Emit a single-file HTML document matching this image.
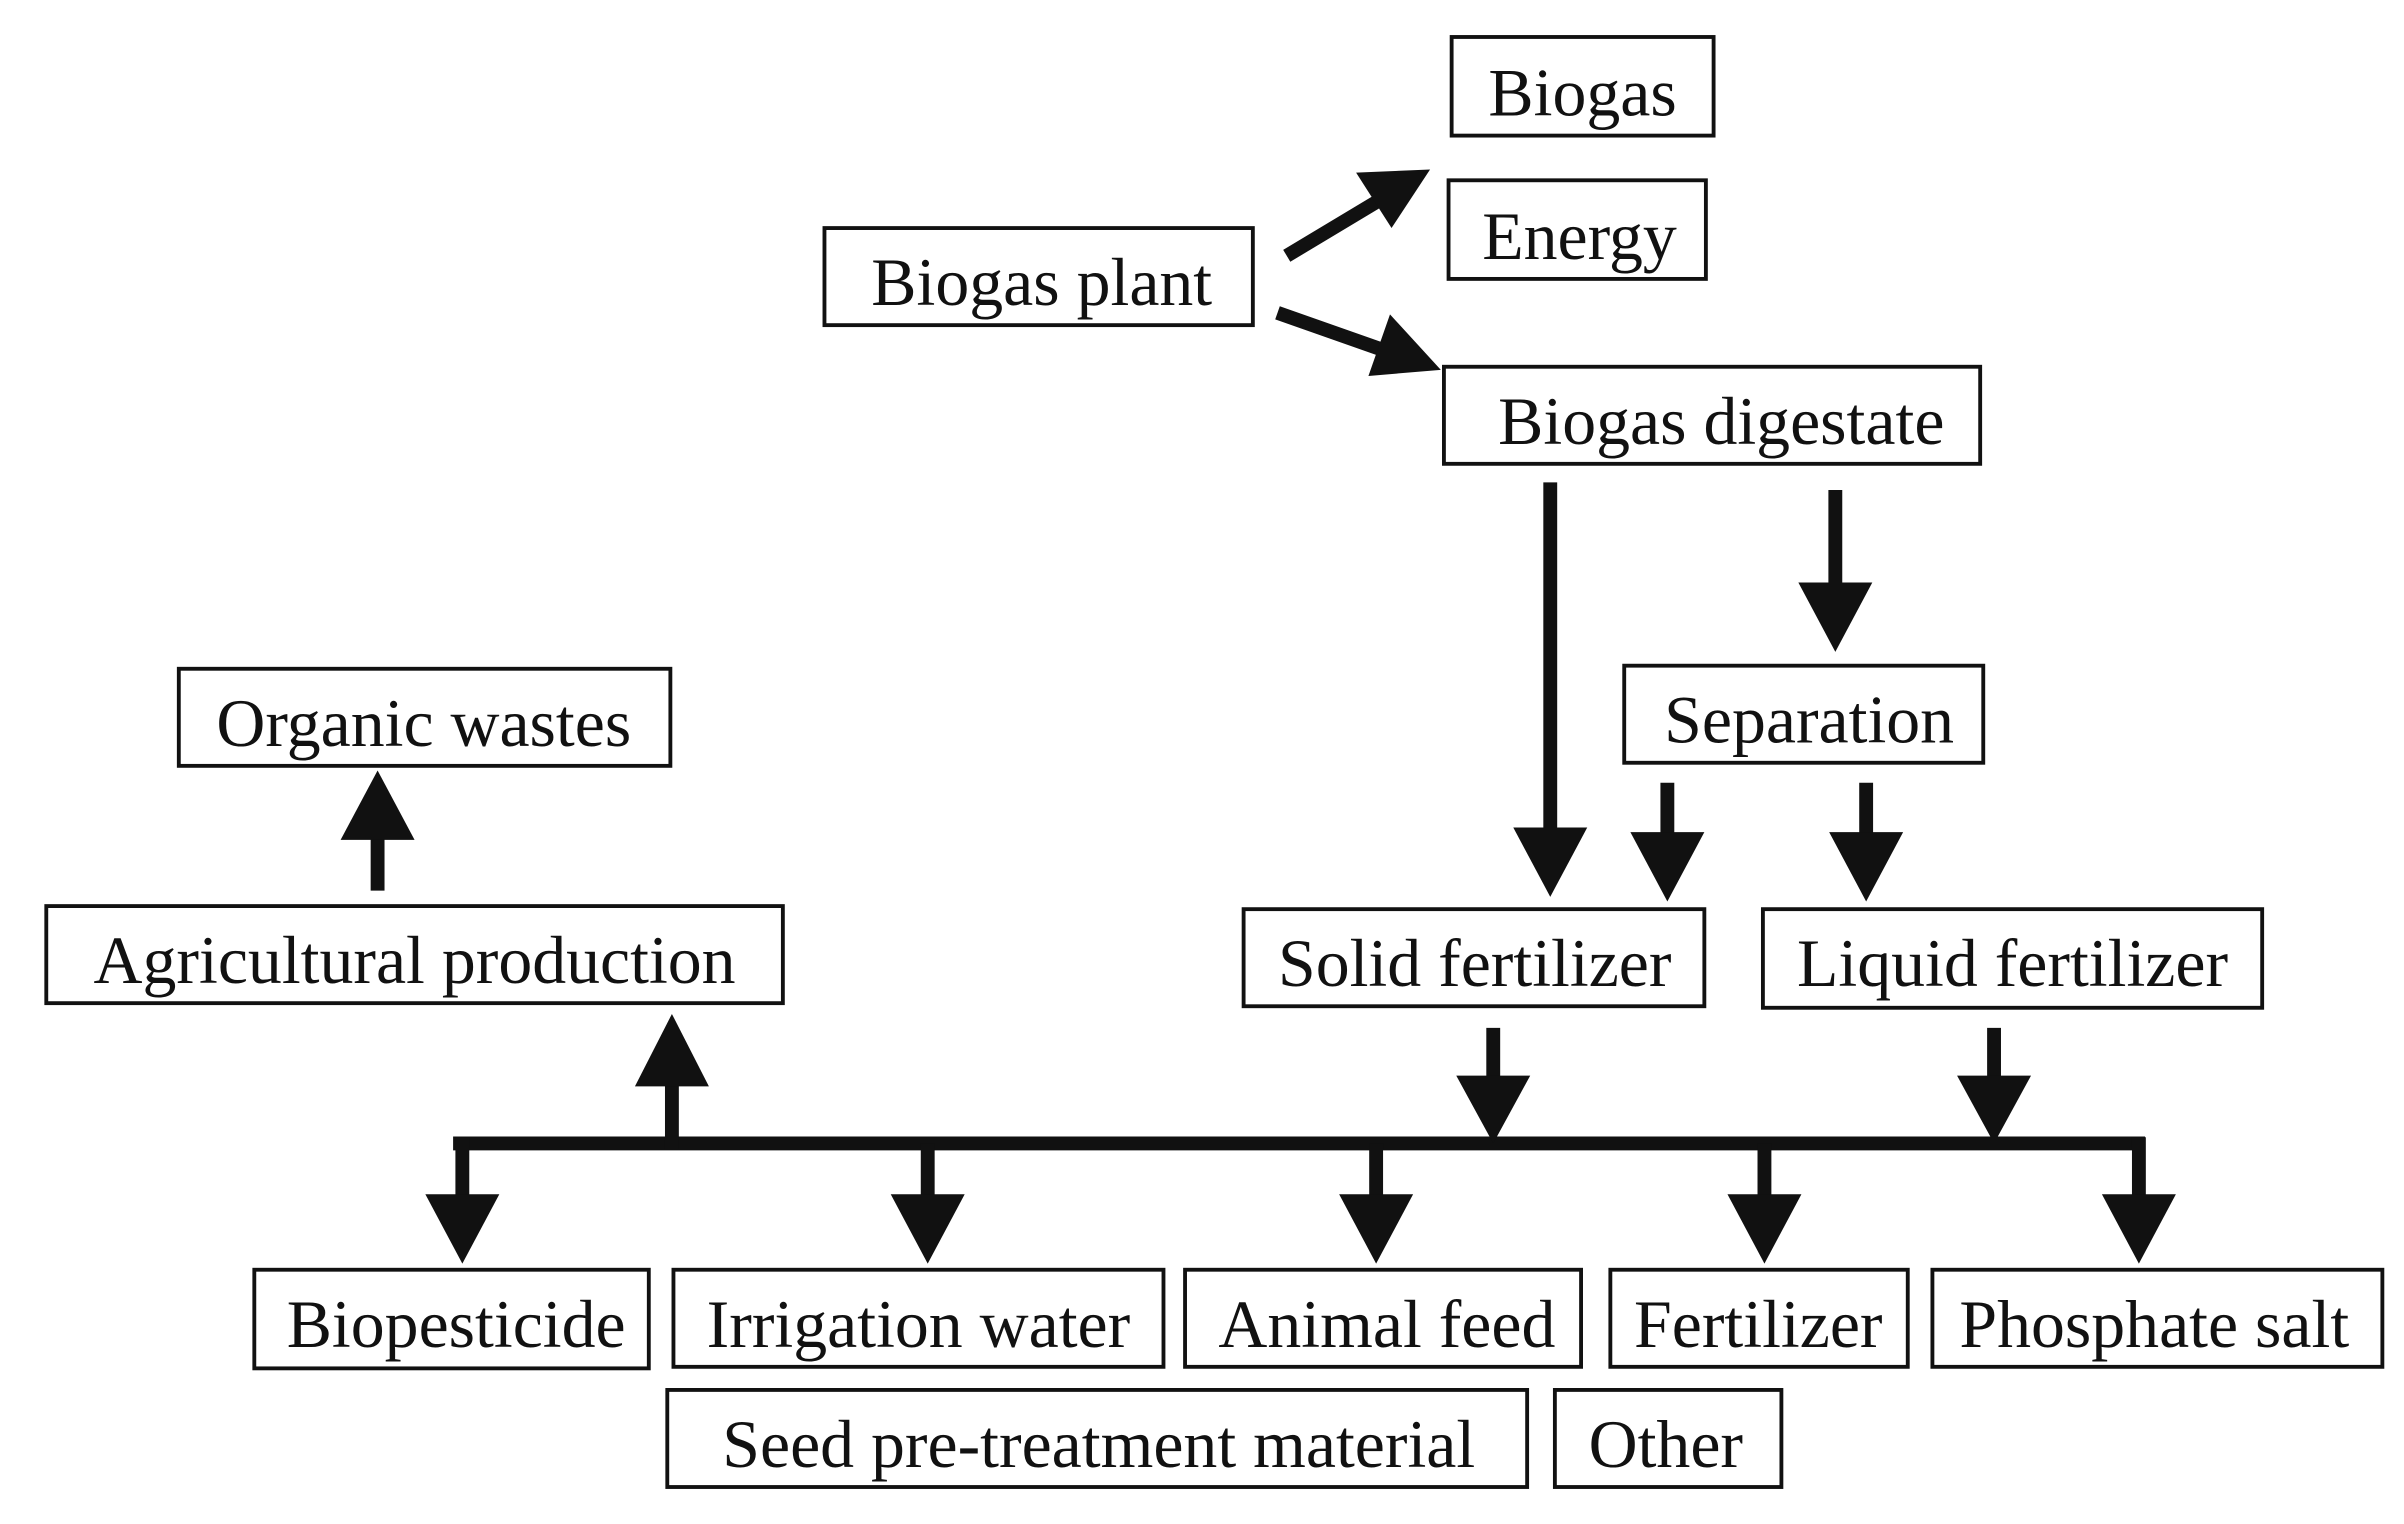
<!DOCTYPE html>
<html><head><meta charset="utf-8"><style>
html,body{margin:0;padding:0;background:#fff;}
svg{display:block;}
text{font-family:"Liberation Serif",serif;font-size:44px;fill:#111;text-anchor:middle;}
rect{fill:#fff;stroke:#111;stroke-width:2.5;}
.l{stroke:#111;stroke-width:9;fill:none;}
.h{fill:#111;}
</style></head><body>
<svg width="2404" height="1524" viewBox="0 0 1560 989" xmlns="http://www.w3.org/2000/svg">
<rect x="942" y="24" width="170" height="64"/><text x="1027" y="75">Biogas</text>
<rect x="940" y="117" width="167" height="64"/><text x="1025" y="168">Energy</text>
<rect x="535" y="148" width="278" height="63"/><text x="676" y="198">Biogas plant</text>
<rect x="937" y="238" width="348" height="63"/><text x="1117" y="288">Biogas digestate</text>
<rect x="1054" y="432" width="233" height="63"/><text x="1174" y="482">Separation</text>
<rect x="116" y="434" width="319" height="63"/><text x="275" y="484">Organic wastes</text>
<rect x="30" y="588" width="478" height="63"/><text x="269" y="638">Agricultural production</text>
<rect x="807" y="590" width="299" height="63"/><text x="957" y="640">Solid fertilizer</text>
<rect x="1144" y="590" width="324" height="64"/><text x="1306" y="640">Liquid fertilizer</text>
<rect x="165" y="824" width="256" height="64"/><text x="296" y="874">Biopesticide</text>
<rect x="437" y="824" width="318" height="63"/><text x="596" y="874">Irrigation water</text>
<rect x="769" y="824" width="257" height="63"/><text x="900" y="874">Animal feed</text>
<rect x="1045" y="824" width="193" height="63"/><text x="1141" y="874">Fertilizer</text>
<rect x="1254" y="824" width="292" height="63"/><text x="1398" y="874">Phosphate salt</text>
<rect x="433" y="902" width="558" height="63"/><text x="713" y="952">Seed pre-treatment material</text>
<rect x="1009" y="902" width="147" height="63"/><text x="1081" y="952">Other</text>

<!-- diagonal arrows -->
<line class="l" x1="835" y1="166" x2="900" y2="127"/>
<polygon class="h" points="928,110 880,112 903,148"/>
<line class="l" x1="829" y1="203" x2="900" y2="228"/>
<polygon class="h" points="935,240 902,204 888,244"/>

<!-- verticals from digestate -->
<line class="l" x1="1006" y1="313" x2="1006" y2="540"/>
<polygon class="h" points="982,537 1030,537 1006,582"/>
<line class="l" x1="1191" y1="318" x2="1191" y2="380"/>
<polygon class="h" points="1167,378 1215,378 1191,423"/>

<!-- from separation -->
<line class="l" x1="1082" y1="508" x2="1082" y2="542"/>
<polygon class="h" points="1058,540 1106,540 1082,585"/>
<line class="l" x1="1211" y1="508" x2="1211" y2="542"/>
<polygon class="h" points="1187,540 1235,540 1211,585"/>

<!-- organic wastes up -->
<line class="l" x1="245" y1="578" x2="245" y2="543"/>
<polygon class="h" points="221,545 269,545 245,500"/>

<!-- bus -->
<line class="l" x1="294" y1="742" x2="1392" y2="742"/>
<line class="l" x1="436" y1="746" x2="436" y2="703"/>
<polygon class="h" points="412,705 460,705 436,658"/>
<line class="l" x1="969" y1="667" x2="969" y2="700"/>
<polygon class="h" points="945,698 993,698 969,742"/>
<line class="l" x1="1294" y1="667" x2="1294" y2="700"/>
<polygon class="h" points="1270,698 1318,698 1294,742"/>

<line class="l" x1="300" y1="738" x2="300" y2="777"/><polygon class="h" points="276,775 324,775 300,820"/>
<line class="l" x1="602" y1="742" x2="602" y2="777"/><polygon class="h" points="578,775 626,775 602,820"/>
<line class="l" x1="893" y1="742" x2="893" y2="777"/><polygon class="h" points="869,775 917,775 893,820"/>
<line class="l" x1="1145" y1="742" x2="1145" y2="777"/><polygon class="h" points="1121,775 1169,775 1145,820"/>
<line class="l" x1="1388" y1="738" x2="1388" y2="777"/><polygon class="h" points="1364,775 1412,775 1388,820"/>
</svg>
</body></html>
